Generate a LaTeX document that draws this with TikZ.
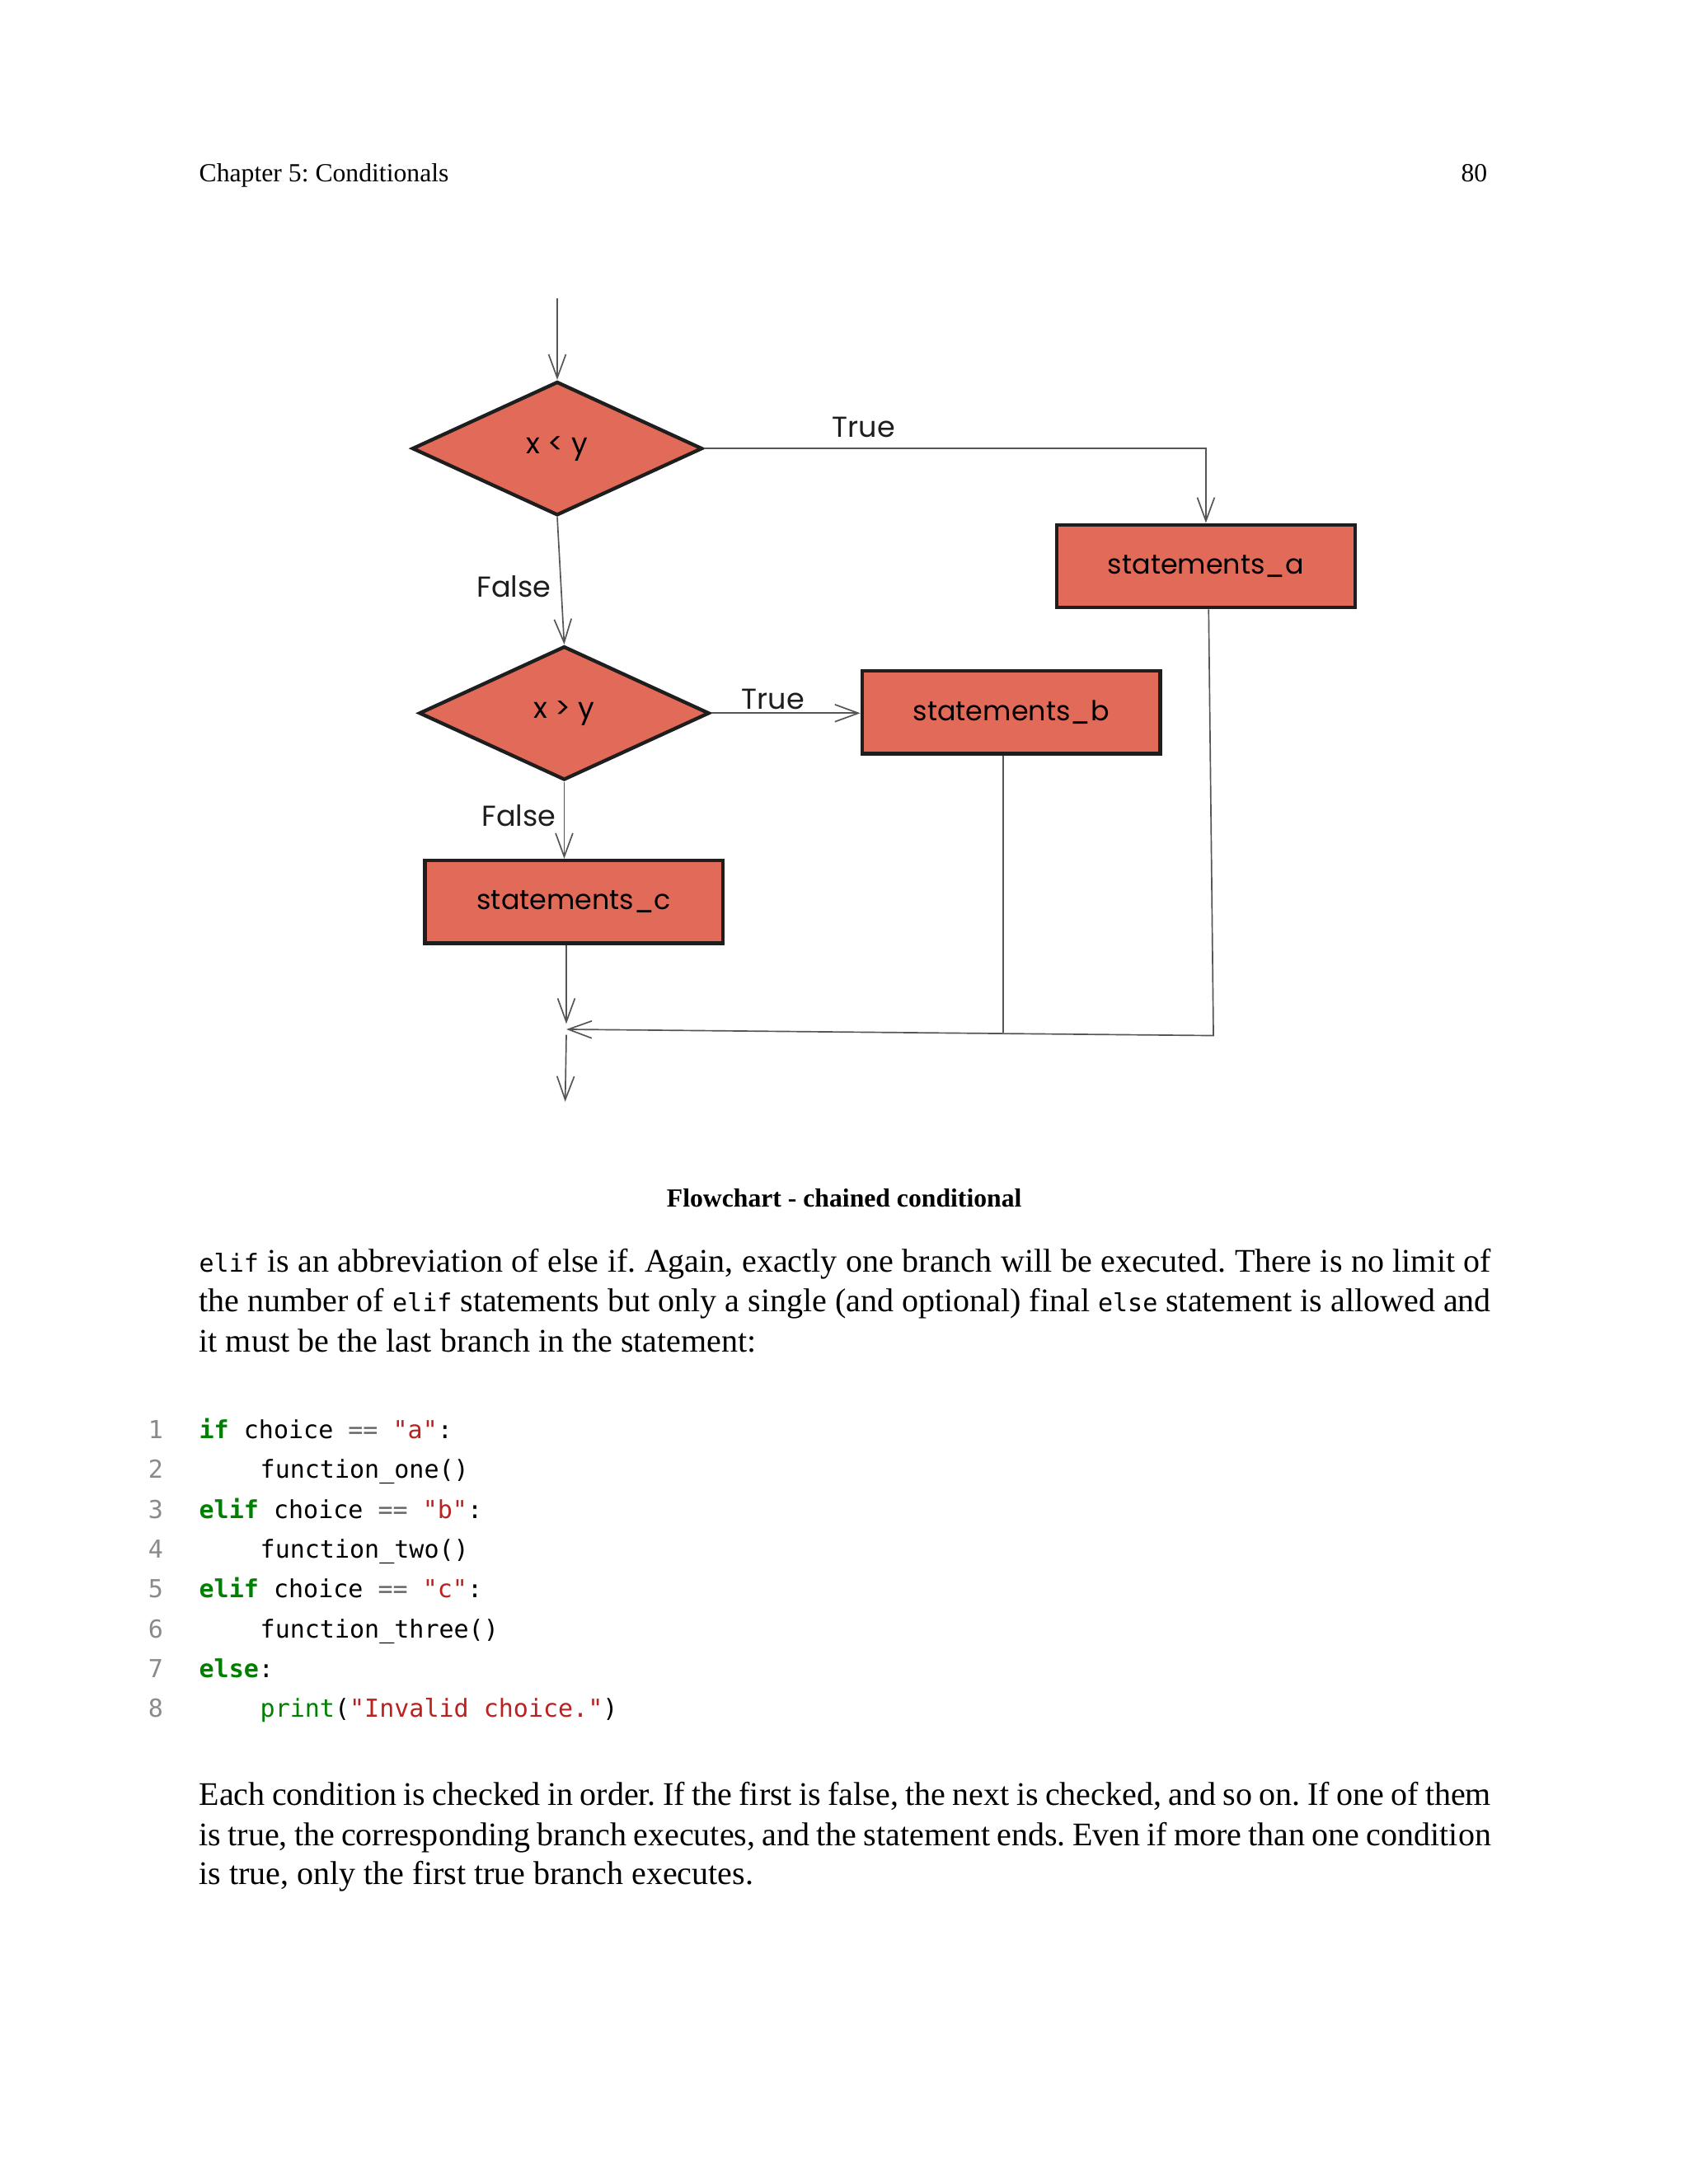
\documentclass[tikz,border=0pt]{standalone}
\usepackage{fontspec}
\setmainfont{Liberation Serif}
\setmonofont{DejaVu Sans Mono}
\newfontfamily\handfont{Poppins}
\usetikzlibrary{shapes.geometric,arrows.meta}
\definecolor{boxred}{HTML}{E26A59}
\definecolor{ink}{HTML}{1E1E1E}
\definecolor{wiregray}{HTML}{555555}
\definecolor{kwgreen}{HTML}{008000}
\definecolor{strred}{HTML}{BA2121}
\definecolor{numgray}{HTML}{8A8A8A}
\definecolor{opgray}{HTML}{666666}
\newcommand{\kw}[1]{\textcolor{kwgreen}{\bfseries #1}}
\newcommand{\strlit}[1]{\textcolor{strred}{#1}}
\newcommand{\opr}[1]{\textcolor{opgray}{#1}}
\newcommand{\ilc}[1]{{\ttfamily\fontsize{9}{11}\selectfont #1}}
\newcommand{\fullline}[1]{\makebox[16.513cm][s]{#1}}
\frenchspacing

\begin{document}
\begin{tikzpicture}
    [x=0.017813cm,y=-0.017813cm,
     decision/.style={diamond,draw=ink,line width=1.3pt,fill=boxred,minimum width=3.71cm,minimum height=1.71cm,inner sep=0pt,font=\handfont\fontsize{10.5}{12}\selectfont},
     stmt/.style={rectangle,draw=ink,line width=1.3pt,fill=boxred,minimum width=3.81cm,minimum height=1.06cm,inner sep=0pt,font=\handfont\fontsize{10}{12}\selectfont},
     flow/.style={draw=wiregray,line width=0.5pt,-{Straight Barb[length=3mm,width=2.2mm]}},
     wire/.style={draw=wiregray,line width=0.5pt},
     lbl/.style={inner sep=1pt,text=ink,font=\handfont\fontsize{10.5}{12}\selectfont},
     body/.style={anchor=base west,inner sep=0pt,font=\fontsize{12}{14.6}\selectfont},
     code/.style={anchor=base west,inner sep=0pt,font=\ttfamily\fontsize{9}{11}\selectfont},
     lineno/.style={anchor=base east,inner sep=0pt,text=numgray,font=\ttfamily\fontsize{9}{11}\selectfont}]
    \useasboundingbox (0,0) rectangle (1212,1568);
    \fill[white] (0,0) rectangle (1212,1568);
    % running head
    \node[body,font=\fontsize{9.5}{11}\selectfont] (head) at (142.6,130.6) {Chapter 5: Conditionals};
    \node[body,anchor=base east,font=\fontsize{9.5}{11}\selectfont] (pageno) at (1068,130.6) {80};
    % flowchart
    \coordinate (start) at (400,214);
    \node[decision] (lt) at (400,322) {x < y};
    \node[stmt] (sa) at (865.6,406.5) {statements\_a};
    \node[decision] (gt) at (405,512) {x > y};
    \node[stmt] (sb) at (725.8,511.4) {statements\_b};
    \node[stmt] (sc) at (412,647.5) {statements\_c};
    \coordinate (join) at (406.5,739);
    \coordinate (bend) at (871,743.5);
    \coordinate (bdrop) at (720,741.5);
    \coordinate (stop) at (405.7,791);
    \draw[flow] (start) -- (lt);
    \draw[flow] (lt.east) -| (sa.north);
    \draw[flow] (lt.south) -- (gt.north);
    \draw[flow] (gt.east) -- (sb.west |- gt.east);
    \draw[flow] (gt.south) -- (gt.south |- sc.north);
    \draw[flow] (join |- sc.south) -- ([yshift=2pt]join);
    \draw[flow] ([xshift=1pt]sa.south) -- (bend) -- (join);
    \draw[wire] (bdrop |- sb.south) -- (bdrop);
    \draw[flow] ([yshift=-2pt]join) -- (stop);
    \node[lbl] (ltyes) at (620,307) {True};
    \node[lbl] (ltno) at (369,421) {False};
    \node[lbl] (gtyes) at (555,502) {True};
    \node[lbl] (gtno) at (372.4,585.5) {False};
    % caption and text
    \node[body,anchor=base,font=\bfseries\fontsize{9.5}{11}\selectfont] (caption) at (606,866.6) {Flowchart - chained conditional};
    \node[body] (pa1) at (142.6,913.3) {\fullline{\ilc{elif} is an abbreviation of else if. Again, exactly one branch will be executed. There is no limit of}};
    \node[body] (pa2) at (142.6,941.9) {\fullline{the number of \ilc{elif} statements but only a single (and optional) final \ilc{else} statement is allowed and}};
    \node[body] (pa3) at (142.6,970.5) {it must be the last branch in the statement:};
    % listing
    \foreach \n in {1,...,8}
        \node[lineno] (ln\n) at (117.5,{1032.7+28.6*(\n-1)}) {\n};
    \node[code] (cl1) at (142.6,1032.7) {\kw{if} choice \opr{==} \strlit{"a"}:};
    \node[code] (cl2) at (186.4,1061.3) {function\_one()};
    \node[code] (cl3) at (142.6,1089.9) {\kw{elif} choice \opr{==} \strlit{"b"}:};
    \node[code] (cl4) at (186.4,1118.5) {function\_two()};
    \node[code] (cl5) at (142.6,1147.1) {\kw{elif} choice \opr{==} \strlit{"c"}:};
    \node[code] (cl6) at (186.4,1175.7) {function\_three()};
    \node[code] (cl7) at (142.6,1204.3) {\kw{else}:};
    \node[code] (cl8) at (186.4,1232.9) {\textcolor{kwgreen}{print}(\strlit{"Invalid choice."})};
    \node[body] (pb1) at (142.6,1296) {\fullline{Each condition is checked in order. If the first is false, the next is checked, and so on. If one of them}};
    \node[body] (pb2) at (142.6,1325) {\fullline{is true, the corresponding branch executes, and the statement ends. Even if more than one condition}};
    \node[body] (pb3) at (142.6,1353) {is true, only the first true branch executes.};
\end{tikzpicture}
\end{document}
